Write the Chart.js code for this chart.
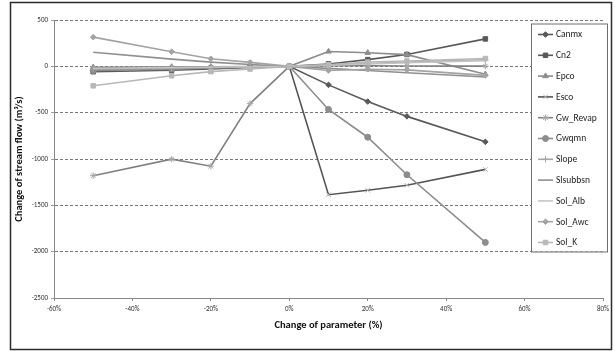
<!DOCTYPE html>
<html>
<head>
<meta charset="utf-8">
<script src="https://cdn.jsdelivr.net/npm/chart.js@4.4.0/dist/chart.umd.min.js"></script>
<style>
  html, body { margin: 0; padding: 0; background: #fff; }
  #wrap { width: 615px; height: 351px; }
</style>
</head>
<body>
<div id="wrap"><canvas id="chart" width="615" height="351"></canvas></div>
<script>
// parameter change (%)
const paramChange = [-50, -30, -20, -10, 0, 10, 20, 30, 50];

// change of stream flow (m3/s) per parameter
const canmx    = [-40, -20, -10, -5, 0, -200, -380, -540, -815];
const cn2      = [-58, -42, -28, -12, 0, 26, 72, 128, 296];
const epco     = [-10, -6, -4, -2, 0, 160, 146, 126, -85];
const esco     = [-25, -15, -10, -5, 0, -1385, -1338, -1283, -1112];
const gwRevap  = [-1180, -1002, -1078, -402, 0, 8, 6, 4, 2];
const gwqmn    = [-45, -30, -18, -8, 0, -465, -765, -1170, -1900];
const slope    = [-30, -20, -12, -6, 0, 15, 30, 45, 70];
const slsubbsn = [152, 78, 45, 20, 0, -22, -45, -70, -115];
const solAlb   = [-20, -12, -8, -4, 0, 12, 25, 38, 62];
const solAwc   = [315, 158, 82, 43, 0, -45, -32, -38, -98];
const solK     = [-210, -102, -57, -29, 0, 16, 46, 57, 84];

const seriesNames = ['Canmx', 'Cn2', 'Epco', 'Esco', 'Gw_Revap', 'Gwqmn', 'Slope', 'Slsubbsn', 'Sol_Alb', 'Sol_Awc', 'Sol_K'];
const seriesValues = [canmx, cn2, epco, esco, gwRevap, gwqmn, slope, slsubbsn, solAlb, solAwc, solK];

const yTicks = [500, 0, -500, -1000, -1500, -2000, -2500];
const xTicks = [-60, -40, -20, 0, 20, 40, 60, 80];

// look of each series: line colour, marker, marker colour, marker size
const styles = [
  { color: '#595959', point: 'rectRot',  pointColor: '#595959', r: 2.8 },
  { color: '#595959', point: 'rect',     pointColor: '#595959', r: 3.2 },
  { color: '#8c8c8c', point: 'triangle', pointColor: '#8c8c8c', r: 3.2 },
  { color: '#555555', point: 'crossRot', pointColor: '#b4b4b4', r: 3.2 },
  { color: '#808080', point: 'star',     pointColor: '#a8a8a8', r: 3.2 },
  { color: '#8c8c8c', point: 'circle',   pointColor: '#8c8c8c', r: 3 },
  { color: '#a6a6a6', point: 'cross',    pointColor: '#a6a6a6', r: 3.2 },
  { color: '#8f8f8f', point: false,      pointColor: '#8f8f8f', r: 0 },
  { color: '#c4c4c4', point: false,      pointColor: '#c4c4c4', r: 0 },
  { color: '#a3a3a3', point: 'rectRot',  pointColor: '#a3a3a3', r: 2.8 },
  { color: '#b8b8b8', point: 'rect',     pointColor: '#b8b8b8', r: 3.2 },
];

const datasets = seriesNames.map((name, i) => ({
  label: name,
  data: paramChange.map((p, j) => ({ x: p, y: seriesValues[i][j] })),
  borderColor: styles[i].color,
  backgroundColor: styles[i].pointColor,
  pointBorderColor: styles[i].pointColor,
  pointBackgroundColor: styles[i].pointColor,
  pointStyle: styles[i].point,
  pointRadius: styles[i].r,
  pointBorderWidth: 1,
  borderWidth: 1.6,
  tension: 0,
  order: seriesNames.length - i,
}));

const FONT = 'Carlito, Lato, "Liberation Sans", sans-serif';

// outer frame around the whole picture
const framePlugin = {
  id: 'frame',
  afterDraw(chart) {
    const ctx = chart.ctx;
    ctx.save();
    ctx.strokeStyle = '#2b2b2b';
    ctx.lineWidth = 1.5;
    ctx.strokeRect(10.5, 2.5, 601, 347);
    ctx.restore();
  }
};

// Excel-like legend box sitting over the plot
const legendPlugin = {
  id: 'boxLegend',
  afterDraw(chart) {
    const ctx = chart.ctx;
    const x0 = 531, y0 = 23.5, w = 76, h = 228;
    ctx.save();
    ctx.fillStyle = '#fff';
    ctx.fillRect(x0, y0, w, h);
    ctx.strokeStyle = '#6e6e6e';
    ctx.lineWidth = 1;
    ctx.strokeRect(x0 + 0.5, y0 + 0.5, w, h);
    ctx.font = '9.5px ' + FONT;
    ctx.textBaseline = 'middle';
    chart.data.datasets.forEach((ds, i) => {
      const y = y0 + 11 + i * 20.8;
      ctx.strokeStyle = ds.borderColor;
      ctx.lineWidth = 1.6;
      ctx.beginPath();
      ctx.moveTo(538, y);
      ctx.lineTo(553, y);
      ctx.stroke();
      if (ds.pointStyle && Chart.helpers && Chart.helpers.drawPoint) {
        ctx.fillStyle = ds.pointBackgroundColor;
        ctx.strokeStyle = ds.pointBorderColor;
        ctx.lineWidth = 1;
        Chart.helpers.drawPoint(ctx, { pointStyle: ds.pointStyle, radius: ds.pointRadius, borderWidth: 1, rotation: 0 }, 545.5, y);
      }
      ctx.fillStyle = '#222';
      ctx.fillText(ds.label, 556, y + 0.5);
    });
    ctx.restore();
  }
};

new Chart(document.getElementById('chart'), {
  type: 'line',
  data: { datasets },
  options: {
    responsive: false,
    animation: false,
    layout: { padding: { left: 10, right: 12, top: 20, bottom: 19 } },
    plugins: {
      legend: { display: false },
      tooltip: { enabled: false },
    },
    scales: {
      x: {
        type: 'linear',
        min: -60,
        max: 80,
        afterBuildTicks: (scale) => { scale.ticks = xTicks.map(v => ({ value: v })); },
        afterFit: (scale) => { scale.height = 34; },
        ticks: {
          callback: (v) => v + '%',
          font: { family: FONT, size: 7 },
          color: '#333',
          padding: 4,
          maxRotation: 0,
        },
        grid: { drawOnChartArea: false, drawTicks: true, tickLength: 3, color: '#888' },
        border: { display: true, color: '#888', width: 1 },
        title: {
          display: true,
          text: 'Change of parameter (%)',
          font: { family: FONT, size: 10.5, weight: 'bold' },
          color: '#111',
          padding: { top: 2, bottom: 0 },
        },
      },
      y: {
        type: 'linear',
        min: -2500,
        max: 500,
        afterBuildTicks: (scale) => { scale.ticks = yTicks.map(v => ({ value: v })); },
        afterFit: (scale) => { scale.width = 44; },
        ticks: {
          callback: (v) => String(v),
          font: { family: FONT, size: 7 },
          color: '#333',
          padding: 3,
        },
        grid: {
          color: (c) => (c.tick && c.tick.value === -2500 ? 'rgba(0,0,0,0)' : '#555'),
          lineWidth: 0.8,
          drawTicks: true,
          tickLength: 3,
          tickColor: '#888',
        },
        border: { display: true, color: '#888', width: 1, dash: [3, 2] },
        title: {
          display: true,
          text: 'Change of stream flow (m\u00b3/s)',
          font: { family: FONT, size: 10.5, weight: 'bold' },
          color: '#111',
          padding: { top: 3, bottom: 0 },
        },
      },
    },
  },
  plugins: [framePlugin, legendPlugin],
});
</script>
</body>
</html>
